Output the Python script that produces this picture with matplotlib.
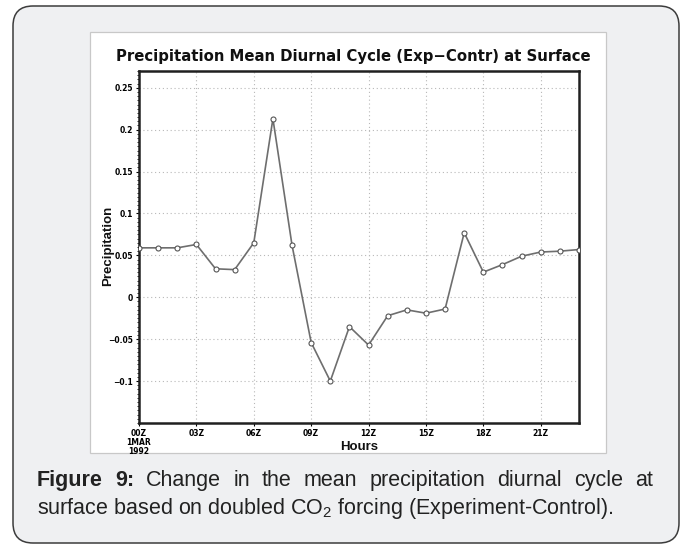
import numpy as np
import matplotlib
matplotlib.use("Agg")
import matplotlib.pyplot as plt
from matplotlib.patches import FancyBboxPatch, Rectangle
from matplotlib.ticker import FixedLocator, FixedFormatter, MultipleLocator

# data (hourly mean, Exp - Contr)
hours = list(range(24))
precip = [0.059, 0.059, 0.059, 0.063, 0.034, 0.033, 0.065, 0.213, 0.062, -0.054,
          -0.100, -0.035, -0.057, -0.022, -0.015, -0.019, -0.014, 0.077, 0.030,
          0.039, 0.049, 0.054, 0.055, 0.057]

xticks = [0, 3, 6, 9, 12, 15, 18, 21]
xticklabels = ["00Z\n1MAR\n1992", "03Z", "06Z", "09Z", "12Z", "15Z", "18Z", "21Z"]
yticks = [-0.1, -0.05, 0, 0.05, 0.1, 0.15, 0.2, 0.25]
yticklabels = ["\u22120.1", "\u22120.05", "0", "0.05", "0.1", "0.15", "0.2", "0.25"]

title = "Precipitation Mean Diurnal Cycle (Exp\u2212Contr) at Surface"
cap1 = ["Figure", "9:", "Change", "in", "the", "mean", "precipitation", "diurnal", "cycle", "at"]
cap2 = "surface based on doubled CO$_2$ forcing (Experiment-Control)."

plt.rcParams['mathtext.fontset'] = 'custom'
plt.rcParams['mathtext.rm'] = 'Liberation Sans'
plt.rcParams['mathtext.it'] = 'Liberation Sans:italic'

W, H = 685, 545
fig = plt.figure(figsize=(W / 100, H / 100), dpi=100)
fig.patch.set_facecolor("white")

# rounded caption box
box = FancyBboxPatch((0.13, 0.02), 6.66, 5.37, boxstyle="round,pad=0,rounding_size=0.2",
                     transform=fig.dpi_scale_trans, facecolor="#eff0f2",
                     edgecolor="#3c3c3c", linewidth=1.1, zorder=0)
fig.add_artist(box)
# white image area
img = Rectangle((0.90, 0.92), 5.16, 4.21, transform=fig.dpi_scale_trans,
                facecolor="white", edgecolor="#c8c8c8", linewidth=0.9, zorder=0)
fig.add_artist(img)

ax = fig.add_axes([139 / W, 1 - 423 / H, 440 / W, 352 / H])
ax.set_facecolor("white")
ax.plot(hours, precip, color="#6e6e6e", lw=1.2, marker="o", ms=3.6,
        mfc="white", mec="#555555", mew=0.8, zorder=3)

ax.set_xlim(0, 23)
ax.set_ylim(-0.15, 0.27)
ax.xaxis.set_major_locator(FixedLocator(xticks))
ax.xaxis.set_major_formatter(FixedFormatter(xticklabels))
ax.yaxis.set_major_locator(FixedLocator(yticks))
ax.yaxis.set_major_formatter(FixedFormatter(yticklabels))
ax.yaxis.set_minor_locator(MultipleLocator(0.005))
ax.tick_params(axis="both", which="major", labelsize=5.5, length=2.5, width=0.8,
               direction="out", pad=2)
ax.tick_params(axis="y", which="minor", length=1.5, width=0.6, direction="out")
for lab in ax.get_xticklabels() + ax.get_yticklabels():
    lab.set_fontweight("bold")
    lab.set_linespacing(0.95)

ax.grid(True, which="major", linestyle=(0, (1, 2.5)), color="#b8b8b8", lw=0.8)
for s in ax.spines.values():
    s.set_linewidth(1.8)
    s.set_color("#202020")

fig.text(353 / W, 1 - 57 / H, title, ha="center", va="center", fontsize=10.7,
         family="DejaVu Sans", weight="bold", color="#111111")
fig.text(108 / W, 1 - 246 / H, "Precipitation", rotation=90, ha="center", va="center",
         fontsize=9.5, family="Liberation Sans", weight="bold", color="#111111")
fig.text(359 / W, 1 - 447 / H, "Hours", ha="center", va="center",
         fontsize=9.5, family="Liberation Sans", weight="bold", color="#111111")

# justified first caption line
fig.canvas.draw()
r = fig.canvas.get_renderer()
x_left, x_right, y1 = 37, 653, 1 - 486 / H
texts = []
for i, w in enumerate(cap1):
    t = fig.text(0, y1, w, ha="left", va="baseline", fontsize=15.5, family="Liberation Sans",
                 weight="bold" if i < 2 else "normal", color="#222222")
    texts.append(t)
widths = [t.get_window_extent(r).width for t in texts]
gap = (x_right - x_left - sum(widths)) / (len(texts) - 1)
x = x_left
for t, wd in zip(texts, widths):
    t.set_x(x / W)
    x += wd + gap

fig.text(x_left / W, 1 - 514 / H, cap2, ha="left", va="baseline", fontsize=15.5,
         family="Liberation Sans", color="#222222")

fig.savefig("out.png", dpi=100)
